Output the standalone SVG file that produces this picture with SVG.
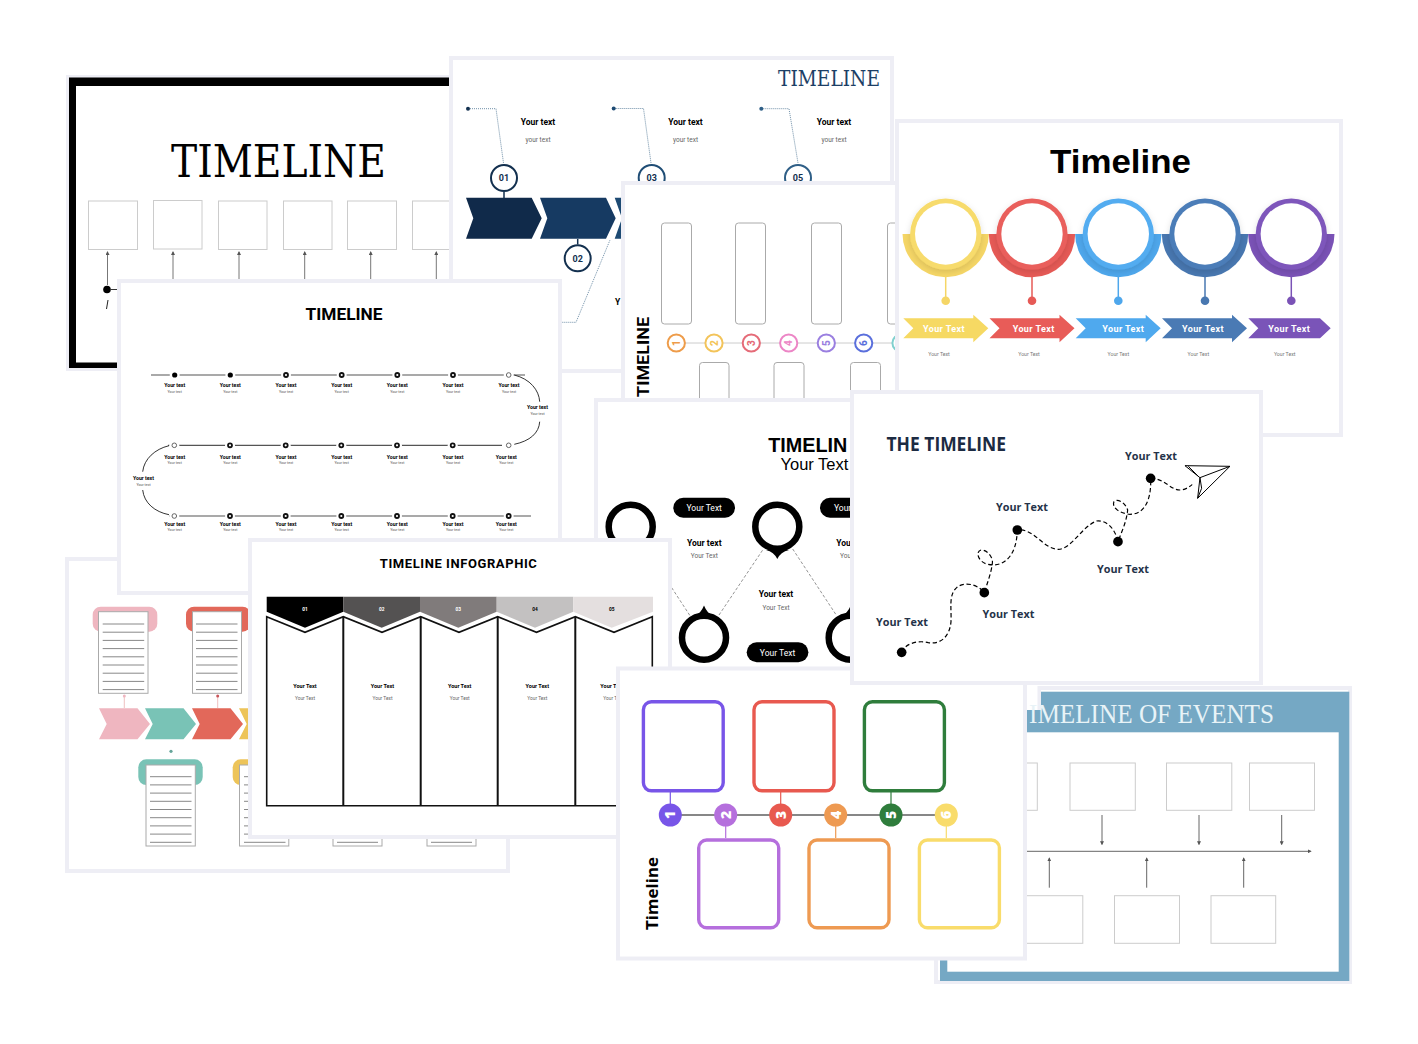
<svg xmlns="http://www.w3.org/2000/svg" width="1418" height="1044" viewBox="0 0 1418 1044">
<style>
.card{fill:#fff;stroke:#eeeef5;stroke-width:4}
text{font-family:Roboto,"Liberation Sans",sans-serif;fill:#000}
.m{text-anchor:middle}
.serif{font-family:"Liberation Serif","DejaVu Serif",serif}
.slab{font-family:"DejaVu Serif","Liberation Serif",serif}
.box{fill:#fff;stroke:#ccc;stroke-width:1}
.vbox{fill:#fff;stroke:#aaa;stroke-width:1}
.gl{stroke:#777;stroke-width:1;fill:none}
.b{font-weight:700}
.bt{font-weight:700;font-size:8.5px}
.st{font-size:6.5px;fill:#666}
.e1{font-weight:700;font-size:5.2px;text-anchor:middle}
.e2{font-size:3.6px;fill:#555;text-anchor:middle}
.dot{stroke:#6f8fa8;stroke-width:1;stroke-dasharray:1 1;fill:none}
.num{font-weight:700;font-size:9px;fill:#13304f;text-anchor:middle}
.cring{fill:#fff;stroke-width:2}
.cd{font-weight:800;font-size:10px;text-anchor:middle}
.ring{fill:#fff;filter:url(#sh)}
.hole{fill:#fff}
.dw{fill:#fff;font-weight:700;font-size:9px;text-anchor:middle;letter-spacing:.4px}
.ds{font-size:5.2px;fill:#777;text-anchor:middle}
.n{fill:#fff;stroke:#111;stroke-width:1.8}
.nl{fill:#fff;stroke:#666;stroke-width:1}
.doc{fill:#fff;stroke:#aaa;stroke-width:1}
.dl{stroke:#888;stroke-width:1;fill:none}
.col{fill:none;stroke:#111;stroke-width:1.6}
.it1{font-weight:700;font-size:5.5px;text-anchor:middle}
.it2{font-size:4.8px;fill:#666;text-anchor:middle}
.inum{font-weight:700;font-size:4.8px;text-anchor:middle}
.jbox{fill:#fff;stroke-width:3.4}
.jd{fill:#fff;font-weight:800;font-size:14px;text-anchor:middle;font-family:"Open Sans",sans-serif}
.k{fill:#fff;stroke:#ccc;stroke-width:1}
.ka{stroke:#666;stroke-width:1;fill:none;marker-end:url(#ah)}
.hl{font-family:"Open Sans",sans-serif;font-weight:700;font-size:10.8px;fill:#253349;text-anchor:middle}
.pill{fill:#000}
.pt{fill:#fff;font-size:8.5px;text-anchor:middle}
</style>
<defs>
<marker id="ah" markerWidth="4" markerHeight="4" refX="3" refY="2" orient="auto"><path d="M0,0L4,2L0,4Z" fill="#555"/></marker>
<filter id="sh" x="-30%" y="-30%" width="160%" height="160%"><feDropShadow dx="0" dy="2" stdDeviation="3" flood-color="#000" flood-opacity=".13"/></filter>
<path id="bowl" d="M-43.2,0A43.2,43.2 0 0 0 43.2,0Z"/>
<path id="arw" d="M0,4H70V0.4L85,14L70,28V24H0L10,14Z"/>
<path id="chv" d="M0,0H38.5L51,15.7L38.5,31H0L7.7,15.7Z"/>
<path id="pin" d="M-9,1Q-3,-2 0,-9.5Q3,-2 9,1Z"/>
<g id="lines"><path class="dl" d="M0,0H41.5M0,8.2H41.5M0,16.4H41.5M0,24.6H41.5M0,32.8H41.5M0,41H41.5M0,49.2H41.5M0,57.4H41.5M0,65.6H41.5"/></g>
</defs>

<g id="card-black-timeline">
<rect class="card" x="68" y="77" width="443" height="292"/>
<path d="M69,77.5H511V368H69Z" fill="#000"/>
<rect x="76" y="86" width="425" height="276.5" fill="#fff"/>
<text class="slab" x="171" y="177" font-size="44" textLength="215" lengthAdjust="spacingAndGlyphs">TIMELINE</text>
<rect class="box" x="88.5" y="201" width="49" height="48.5"/>
<rect class="box" x="153.5" y="200.5" width="48.5" height="48.5"/>
<rect class="box" x="218.5" y="201" width="48.5" height="48.5"/>
<rect class="box" x="283.5" y="201" width="48.5" height="48.5"/>
<rect class="box" x="347.5" y="201" width="49" height="48.5"/>
<rect class="box" x="412.5" y="201" width="49" height="48.5"/>
<path class="gl" marker-end="url(#ah)" d="M107.5,285V252"/>
<path class="gl" marker-end="url(#ah)" d="M173,285V252"/>
<path class="gl" marker-end="url(#ah)" d="M239,285V252"/>
<path class="gl" marker-end="url(#ah)" d="M304.7,285V252"/>
<path class="gl" marker-end="url(#ah)" d="M370.7,285V252"/>
<path class="gl" marker-end="url(#ah)" d="M436.3,285V252"/>
<circle cx="107" cy="289.5" r="3.8"/>
<path d="M110,289.5H119" stroke="#333" fill="none"/>
<path d="M108,300L106.5,309" stroke="#222" stroke-width="1" fill="none"/>
</g>

<g id="card-blue-timeline">
<rect class="card" x="451" y="58" width="441" height="313"/>
<text class="slab" x="778" y="86" font-size="22" style="fill:#1d3f66" textLength="102" lengthAdjust="spacingAndGlyphs">TIMELINE</text>
<path class="dot" d="M468,108.7H496L503.5,163"/>
<path class="dot" d="M613.7,108.5H643.5L651,163"/>
<path class="dot" d="M761.3,108.7H789L798,163"/>
<path class="dot" d="M561.7,322.3H576L610,240"/>
<circle cx="468" cy="108.7" r="2" fill="#13304f"/>
<circle cx="613.7" cy="108.5" r="2" fill="#1d4a73"/>
<circle cx="761.3" cy="108.7" r="2" fill="#2f5f87"/>
<text class="bt m" x="538" y="125">Your text</text><text class="st m" x="538" y="142">your text</text>
<text class="bt m" x="685.5" y="125">Your text</text><text class="st m" x="685.5" y="142">your text</text>
<text class="bt m" x="834" y="125">Your text</text><text class="st m" x="834" y="142">your text</text>
<path d="M504,192V198M577.7,239V244.5" stroke="#13304f" stroke-width="1.5"/>
<path d="M466,197.7H531.7L541.7,218.3L531.7,238.7H466L473.3,218.3Z" fill="#102a4a"/>
<path d="M540,197.7H606L615.7,218.3L606,238.7H540L547.3,218.3Z" fill="#163a62"/>
<path d="M614.7,197.7H630V238.7H614.7L622,218.3Z" fill="#1d4a73"/>
<circle class="cring" cx="504" cy="178" r="13" stroke="#13304f"/><text class="num" x="504" y="181.3">01</text>
<circle class="cring" cx="577.7" cy="258.3" r="13" stroke="#13304f"/><text class="num" x="577.7" y="261.6">02</text>
<circle class="cring" cx="651.7" cy="178" r="13" stroke="#1f4d75"/><text class="num" x="651.7" y="181.3">03</text>
<circle class="cring" cx="798" cy="178" r="13" stroke="#2f5f87"/><text class="num" x="798" y="181.3">05</text>
<text class="bt" x="615" y="305">Y</text>
</g>

<g id="card-vertical-timeline">
<rect class="card" x="623" y="183" width="290" height="230"/>
<rect class="vbox" x="661.5" y="223" width="30" height="101" rx="3"/>
<rect class="vbox" x="735.5" y="223" width="30" height="101" rx="3"/>
<rect class="vbox" x="811.5" y="223" width="30" height="101" rx="3"/>
<rect class="vbox" x="887.5" y="223" width="30" height="101" rx="3"/>
<path d="M676,343H905" stroke="#ccc" stroke-width="1"/>
<circle class="cring" cx="676.3" cy="343" r="8.6" stroke="#ee9c4a"/><text class="cd" x="676.3" y="346.5" style="fill:#ee9c4a" transform="rotate(-90 676.3 343)">1</text>
<circle class="cring" cx="714" cy="343" r="8.6" stroke="#f3c45a"/><text class="cd" x="714" y="346.5" style="fill:#f3c45a" transform="rotate(-90 714 343)">2</text>
<circle class="cring" cx="751.3" cy="343" r="8.6" stroke="#e56b78"/><text class="cd" x="751.3" y="346.5" style="fill:#e56b78" transform="rotate(-90 751.3 343)">3</text>
<circle class="cring" cx="788.7" cy="343" r="8.6" stroke="#ec86c6"/><text class="cd" x="788.7" y="346.5" style="fill:#ec86c6" transform="rotate(-90 788.7 343)">4</text>
<circle class="cring" cx="826.3" cy="343" r="8.6" stroke="#9a7fe0"/><text class="cd" x="826.3" y="346.5" style="fill:#9a7fe0" transform="rotate(-90 826.3 343)">5</text>
<circle class="cring" cx="863.7" cy="343" r="8.6" stroke="#5a6fdc"/><text class="cd" x="863.7" y="346.5" style="fill:#5a6fdc" transform="rotate(-90 863.7 343)">6</text>
<circle class="cring" cx="901" cy="343" r="8.6" stroke="#7fd0cf"/>
<rect class="vbox" x="699.5" y="362.5" width="29.5" height="50" rx="3"/>
<rect class="vbox" x="774" y="362.5" width="30" height="50" rx="3"/>
<rect class="vbox" x="850.5" y="362.5" width="30" height="50" rx="3"/>
<text class="b" x="648.5" y="397" font-size="16.5" textLength="80" lengthAdjust="spacingAndGlyphs" font-weight="900" transform="rotate(-90 648.5 397)">TIMELINE</text>
</g>

<g id="card-timeline-rings">
<rect class="card" x="897" y="121" width="444" height="314"/>
<text class="b m" x="1120.5" y="172.5" font-size="34" style="font-family:'Liberation Sans',sans-serif" textLength="141" lengthAdjust="spacingAndGlyphs">Timeline</text>
<use href="#bowl" x="945.7" y="234" fill="#f5d666"/>
<use href="#bowl" x="1032" y="234" fill="#e65a56"/>
<use href="#bowl" x="1118.3" y="234" fill="#4ea7ec"/>
<use href="#bowl" x="1205" y="234" fill="#4877b0"/>
<use href="#bowl" x="1291.3" y="234" fill="#7a52b6"/>
<circle class="ring" cx="945.7" cy="234" r="35.6" style="fill:#f7db6c"/><circle class="hole" cx="945.7" cy="234" r="30.7"/>
<circle class="ring" cx="1032" cy="234" r="35.6" style="fill:#e95f5b"/><circle class="hole" cx="1032" cy="234" r="30.7"/>
<circle class="ring" cx="1118.3" cy="234" r="35.6" style="fill:#52acf0"/><circle class="hole" cx="1118.3" cy="234" r="30.7"/>
<circle class="ring" cx="1205" cy="234" r="35.6" style="fill:#4c7db8"/><circle class="hole" cx="1205" cy="234" r="30.7"/>
<circle class="ring" cx="1291.3" cy="234" r="35.6" style="fill:#7e57bb"/><circle class="hole" cx="1291.3" cy="234" r="30.7"/>
<path d="M945.7,276V300" stroke="#f5d666" stroke-width="1.5"/><circle cx="945.7" cy="300.7" r="4.3" fill="#f5d666"/>
<path d="M1032,276V300" stroke="#e65a56" stroke-width="1.5"/><circle cx="1032" cy="300.7" r="4.3" fill="#e65a56"/>
<path d="M1118.3,276V300" stroke="#4ea7ec" stroke-width="1.5"/><circle cx="1118.3" cy="300.7" r="4.3" fill="#4ea7ec"/>
<path d="M1205,276V300" stroke="#4877b0" stroke-width="1.5"/><circle cx="1205" cy="300.7" r="4.3" fill="#4877b0"/>
<path d="M1291.3,276V300" stroke="#7a52b6" stroke-width="1.5"/><circle cx="1291.3" cy="300.7" r="4.3" fill="#7a52b6"/>
<use href="#arw" x="903.3" y="314.3" fill="#f6d963"/>
<use href="#arw" x="989.5" y="314.3" fill="#e85c58"/>
<use href="#arw" x="1075.7" y="314.3" fill="#4fa9ee"/>
<use href="#arw" x="1162" y="314.3" fill="#4a7ab4"/>
<path d="M1248.3,318.3H1320L1330.7,328.3L1320,338.3H1248.3L1258.3,328.3Z" fill="#7a54b8"/>
<text class="dw" x="944" y="331.7">Your Text</text>
<text class="dw" x="1033.7" y="331.7">Your Text</text>
<text class="dw" x="1123.3" y="331.7">Your Text</text>
<text class="dw" x="1203" y="331.7">Your Text</text>
<text class="dw" x="1289.3" y="331.7">Your Text</text>
<text class="ds" x="939" y="356">Your Text</text>
<text class="ds" x="1029" y="356">Your Text</text>
<text class="ds" x="1118.3" y="356">Your Text</text>
<text class="ds" x="1198.3" y="356">Your Text</text>
<text class="ds" x="1284.7" y="356">Your Text</text>
</g>

<g id="card-pastel-docs">
<rect class="card" x="67" y="559" width="441" height="312"/>
<rect x="92.7" y="606.7" width="64.6" height="25" rx="8" fill="#efb6c0"/>
<rect class="doc" x="98.5" y="611.7" width="49.5" height="81.6"/><use href="#lines" x="102.7" y="624"/>
<rect x="186" y="606.7" width="64.6" height="25" rx="8" fill="#e2685a"/>
<rect class="doc" x="192.5" y="611.7" width="49" height="81.6"/><use href="#lines" x="196" y="624"/>
<path d="M124.3,696V708M217.7,696V708" stroke="#e8a5a5" stroke-width=".7"/>
<circle cx="124.3" cy="696" r="1.5" fill="#efb6c0"/><circle cx="217.7" cy="696" r="1.5" fill="#c9555a"/>
<use href="#chv" x="99" y="708.3" fill="#efb6c0"/>
<use href="#chv" x="145" y="708.3" fill="#79c3b6"/>
<use href="#chv" x="192" y="708.3" fill="#e2685a"/>
<use href="#chv" x="239" y="708.3" fill="#edc459"/>
<circle cx="171" cy="751.3" r="1.6" fill="#66a59a"/>
<rect x="138.3" y="759.3" width="64.4" height="25.7" rx="8" fill="#79c3b6"/>
<rect class="doc" x="146" y="765" width="49.3" height="81"/><use href="#lines" x="150" y="776.7"/>
<rect x="232.7" y="759.3" width="64.4" height="25.7" rx="8" fill="#edc459"/>
<rect class="doc" x="239.5" y="765" width="49.3" height="81"/><use href="#lines" x="244" y="776.7"/>
<rect class="doc" x="333" y="765" width="49" height="81"/><path class="dl" d="M337,842.3H378"/>
<rect class="doc" x="427" y="765" width="49" height="81"/><path class="dl" d="M431,842.3H472"/>
</g>

<g id="card-serpentine">
<rect class="card" x="119" y="281" width="441" height="312"/>
<text class="b m" x="344" y="319.5" font-size="16.5" textLength="77" lengthAdjust="spacingAndGlyphs">TIMELINE</text>
<path d="M151,375H525M168,445.3H502M169,516H531" stroke="#555" stroke-width="1.2" fill="none"/>
<path d="M514.3,375C530,379 539,390 539.7,401.7M539.7,421.7C539,433 530,441 514.3,444.3M169,445.7C155,449 144,459 142.7,471.7M142.7,490C144,503 155,512 169,514.7" stroke="#333" stroke-width="1" fill="none"/>
<g>
<circle cx="174.7" cy="375" r="5" fill="#fff"/><circle cx="230.3" cy="375" r="5" fill="#fff"/><circle cx="286" cy="375" r="5" fill="#fff"/><circle cx="341.7" cy="375" r="5" fill="#fff"/><circle cx="397.3" cy="375" r="5" fill="#fff"/><circle cx="453" cy="375" r="5" fill="#fff"/><circle cx="508.7" cy="375" r="5" fill="#fff"/>
<circle cx="174.3" cy="445.3" r="5" fill="#fff"/><circle cx="230" cy="445.3" r="5" fill="#fff"/><circle cx="285.7" cy="445.3" r="5" fill="#fff"/><circle cx="341.3" cy="445.3" r="5" fill="#fff"/><circle cx="397" cy="445.3" r="5" fill="#fff"/><circle cx="452.7" cy="445.3" r="5" fill="#fff"/><circle cx="508.7" cy="445.3" r="5" fill="#fff"/>
<circle cx="174.3" cy="516" r="5" fill="#fff"/><circle cx="230" cy="516" r="5" fill="#fff"/><circle cx="285.7" cy="516" r="5" fill="#fff"/><circle cx="341.3" cy="516" r="5" fill="#fff"/><circle cx="397" cy="516" r="5" fill="#fff"/><circle cx="452.7" cy="516" r="5" fill="#fff"/><circle cx="508.7" cy="516" r="5" fill="#fff"/>
</g>
<circle cx="174.7" cy="375" r="2.6"/><circle cx="230.3" cy="375" r="2.6"/>
<circle class="n" cx="286" cy="375" r="2"/><circle class="n" cx="341.7" cy="375" r="2"/><circle class="n" cx="397.3" cy="375" r="2"/><circle class="n" cx="453" cy="375" r="2"/><circle class="nl" cx="508.7" cy="375" r="2.3"/>
<circle class="nl" cx="174.3" cy="445.3" r="2.3"/><circle class="n" cx="230" cy="445.3" r="2"/><circle class="n" cx="285.7" cy="445.3" r="2"/><circle class="n" cx="341.3" cy="445.3" r="2"/><circle class="n" cx="397" cy="445.3" r="2"/><circle class="n" cx="452.7" cy="445.3" r="2"/><circle class="nl" cx="508.7" cy="445.3" r="2.3"/>
<circle class="nl" cx="174.3" cy="516" r="2.3"/><circle class="n" cx="230" cy="516" r="2"/><circle class="n" cx="285.7" cy="516" r="2"/><circle class="n" cx="341.3" cy="516" r="2"/><circle class="n" cx="397" cy="516" r="2"/><circle class="n" cx="452.7" cy="516" r="2"/><circle class="n" cx="508.7" cy="516" r="2"/>
<text class="e1" x="174.7" y="387.3">Your text</text><text class="e2" x="174.7" y="392.8">Your text</text>
<text class="e1" x="230.3" y="387.3">Your text</text><text class="e2" x="230.3" y="392.8">Your text</text>
<text class="e1" x="286" y="387.3">Your text</text><text class="e2" x="286" y="392.8">Your text</text>
<text class="e1" x="341.7" y="387.3">Your text</text><text class="e2" x="341.7" y="392.8">Your text</text>
<text class="e1" x="397.3" y="387.3">Your text</text><text class="e2" x="397.3" y="392.8">Your text</text>
<text class="e1" x="453" y="387.3">Your text</text><text class="e2" x="453" y="392.8">Your text</text>
<text class="e1" x="509" y="387.3">Your text</text><text class="e2" x="509" y="392.8">Your text</text>
<text class="e1" x="537.5" y="409">Your text</text><text class="e2" x="537.5" y="414.7">Your text</text>
<text class="e1" x="174.7" y="458.5">Your text</text><text class="e2" x="174.7" y="464">Your text</text>
<text class="e1" x="230.3" y="458.5">Your text</text><text class="e2" x="230.3" y="464">Your text</text>
<text class="e1" x="286" y="458.5">Your text</text><text class="e2" x="286" y="464">Your text</text>
<text class="e1" x="341.7" y="458.5">Your text</text><text class="e2" x="341.7" y="464">Your text</text>
<text class="e1" x="397.3" y="458.5">Your text</text><text class="e2" x="397.3" y="464">Your text</text>
<text class="e1" x="453" y="458.5">Your text</text><text class="e2" x="453" y="464">Your text</text>
<text class="e1" x="506.3" y="458.5">Your text</text><text class="e2" x="506.3" y="464">Your text</text>
<text class="e1" x="143.5" y="480">Your text</text><text class="e2" x="143.5" y="485.7">Your text</text>
<text class="e1" x="174.7" y="525.7">Your text</text><text class="e2" x="174.7" y="531.3">Your text</text>
<text class="e1" x="230.3" y="525.7">Your text</text><text class="e2" x="230.3" y="531.3">Your text</text>
<text class="e1" x="286" y="525.7">Your text</text><text class="e2" x="286" y="531.3">Your text</text>
<text class="e1" x="341.7" y="525.7">Your text</text><text class="e2" x="341.7" y="531.3">Your text</text>
<text class="e1" x="397.3" y="525.7">Your text</text><text class="e2" x="397.3" y="531.3">Your text</text>
<text class="e1" x="453" y="525.7">Your text</text><text class="e2" x="453" y="531.3">Your text</text>
<text class="e1" x="506.3" y="525.7">Your text</text><text class="e2" x="506.3" y="531.3">Your text</text>
</g>

<g id="card-pin-rings">
<rect class="card" x="596" y="400" width="300" height="290"/>
<text class="b" x="768.3" y="451.7" font-size="21" style="font-family:'Liberation Sans',sans-serif" textLength="79" lengthAdjust="spacingAndGlyphs">TIMELIN</text>
<text x="780.5" y="469.5" font-size="16.5" style="font-family:'Liberation Sans',sans-serif">Your Text</text>
<path d="M671.7,587.7L690,615.7M719,615L762.7,550M792.7,549L836.7,615.7" stroke="#888" stroke-width=".9" stroke-dasharray="3 2" fill="none"/>
<circle cx="630.7" cy="526.7" r="22" fill="none" stroke="#000" stroke-width="6.5"/>
<circle cx="777.3" cy="526.7" r="22" fill="none" stroke="#000" stroke-width="6.5"/>
<path d="M766,550Q774,552 777.3,559Q780.5,552 789,550Z"/>
<circle cx="704" cy="637.7" r="22" fill="none" stroke="#000" stroke-width="6.5"/>
<use href="#pin" x="704" y="615"/>
<circle cx="850.7" cy="637.7" r="22" fill="none" stroke="#000" stroke-width="6.5"/>
<use href="#pin" x="850.7" y="615"/>
<rect class="pill" x="673.3" y="497.7" width="61.7" height="20" rx="10"/><text class="pt" x="704.2" y="511">Your Text</text>
<rect class="pill" x="820" y="497.7" width="61.7" height="20" rx="10"/><text class="pt" x="834" y="511" style="text-anchor:start">Your</text>
<rect class="pill" x="746.7" y="642.3" width="61.7" height="20" rx="10"/><text class="pt" x="777.5" y="656">Your Text</text>
<text class="bt m" x="704.3" y="545.5">Your text</text><text class="st m" x="704.3" y="558">Your Text</text>
<text class="bt" x="836.3" y="545.5">You</text><text class="st" x="840" y="558">You</text>
<text class="bt m" x="776" y="597">Your text</text><text class="st m" x="776" y="609.5">Your Text</text>
</g>

<g id="card-infographic">
<rect class="card" x="250" y="540" width="420" height="297"/>
<text class="b m" x="458.3" y="567.7" font-size="13" textLength="157" lengthAdjust="spacing">TIMELINE INFOGRAPHIC</text>
<path d="M266.7,596.7H343.3V611.7L305,627.7L266.7,611.7Z" fill="#000"/>
<path d="M343.3,596.7H420V611.7L381.7,627.7L343.3,611.7Z" fill="#545252"/>
<path d="M420,596.7H496.7V611.7L458.3,627.7L420,611.7Z" fill="#807b7b"/>
<path d="M496.7,596.7H573.3V611.7L535,627.7L496.7,611.7Z" fill="#c3c1c1"/>
<path d="M573.3,596.7H653V611.7L611.7,627.7L573.3,611.7Z" fill="#e4dfdf"/>
<text class="inum" x="305" y="610.5" style="fill:#fff">01</text>
<text class="inum" x="381.7" y="610.5" style="fill:#fff">02</text>
<text class="inum" x="458.3" y="610.5" style="fill:#fff">03</text>
<text class="inum" x="535" y="610.5">04</text>
<text class="inum" x="611.7" y="610.5">05</text>
<path class="col" d="M266.7,616.7L305,632.3L343.3,616.7L382,632.3L420.7,616.7L459,632.3L497.7,616.7L536.5,632.3L575.3,616.7L614,632.3L652.3,616.7V805.7H266.7Z"/>
<path d="M343.3,616.7V805.7M420.7,616.7V805.7M497.7,616.7V805.7M575.3,616.7V805.7" stroke="#111" stroke-width="2" fill="none"/>
<text class="it1" x="305" y="688">Your Text</text><text class="it2" x="305" y="699.5">Your Text</text>
<text class="it1" x="382.5" y="688">Your Text</text><text class="it2" x="382.5" y="699.5">Your Text</text>
<text class="it1" x="459.7" y="688">Your Text</text><text class="it2" x="459.7" y="699.5">Your Text</text>
<text class="it1" x="537.3" y="688">Your Text</text><text class="it2" x="537.3" y="699.5">Your Text</text>
<text class="it1" x="600.3" y="688" style="text-anchor:start">Your T</text><text class="it2" x="603.3" y="699.5" style="text-anchor:start">Your T</text>
</g>

<g id="card-events">
<rect class="card" x="936" y="688" width="414" height="294"/>
<rect x="940" y="691.7" width="409.3" height="289.3" fill="#75a8c4"/>
<rect x="947.3" y="732.3" width="391.4" height="239.4" fill="#fff"/>
<rect x="1027" y="686" width="13" height="24" fill="#fff"/>
<rect x="1037.5" y="686" width="3.5" height="24" fill="#eeeef5"/>
<text class="serif" x="1029" y="722.7" font-size="27" style="fill:#e8f3f7" textLength="245" lengthAdjust="spacingAndGlyphs">IMELINE OF EVENTS</text>
<rect class="k" x="972" y="763" width="65.3" height="47.3"/>
<rect class="k" x="1070" y="763" width="65.3" height="47.3"/>
<rect class="k" x="1166.5" y="763" width="65.3" height="47.3"/>
<rect class="k" x="1249.5" y="763" width="65" height="47.3"/>
<rect class="k" x="1017.5" y="895.7" width="65.3" height="47.6"/>
<rect class="k" x="1114.5" y="895.7" width="65" height="47.6"/>
<rect class="k" x="1211" y="895.7" width="64.7" height="47.6"/>
<path class="ka" d="M1010,851.3H1310.7"/>
<path class="ka" d="M1102,815V844.3"/><path class="ka" d="M1199,815V844.3"/><path class="ka" d="M1281.7,815V844.3"/>
<path class="ka" d="M1049.3,887.7V858.3"/><path class="ka" d="M1146.7,887.7V858.3"/><path class="ka" d="M1243.7,887.7V858.3"/>
</g>

<g id="card-colored-boxes">
<rect class="card" x="618" y="668.5" width="407" height="290"/>
<path d="M670.3,815H946.3" stroke="#111" stroke-width="1.2"/>
<path d="M670.3,792V804" stroke="#7855e8" stroke-width="1.2"/>
<path d="M725.7,826V838" stroke="#b56fdd" stroke-width="1.2"/>
<path d="M780.7,792V804" stroke="#e8594f" stroke-width="1.2"/>
<path d="M835.7,826V838" stroke="#ee9a52" stroke-width="1.2"/>
<path d="M891,792V804" stroke="#2f7d3c" stroke-width="1.2"/>
<path d="M946.3,826V838" stroke="#f9dc6b" stroke-width="1.2"/>
<rect class="jbox" x="643.4" y="701.8" width="79.8" height="89" rx="8" stroke="#7855e8"/>
<rect class="jbox" x="754" y="701.8" width="80" height="89" rx="8" stroke="#e8594f"/>
<rect class="jbox" x="864.4" y="701.8" width="80" height="89" rx="8" stroke="#2f7d3c"/>
<rect class="jbox" x="698.7" y="840" width="80" height="87.7" rx="8" stroke="#b56fdd"/>
<rect class="jbox" x="809" y="840" width="80" height="87.7" rx="8" stroke="#ee9a52"/>
<rect class="jbox" x="919.4" y="840" width="80" height="87.7" rx="8" stroke="#f9dc6b"/>
<circle cx="670.3" cy="815" r="11.5" fill="#7855e8"/><text class="jd" x="670.3" y="820" transform="rotate(-90 670.3 815)">1</text>
<circle cx="725.7" cy="815" r="11.5" fill="#b56fdd"/><text class="jd" x="725.7" y="820" transform="rotate(-90 725.7 815)">2</text>
<circle cx="780.7" cy="815" r="11.5" fill="#e8594f"/><text class="jd" x="780.7" y="820" transform="rotate(-90 780.7 815)">3</text>
<circle cx="835.7" cy="815" r="11.5" fill="#ee9a52"/><text class="jd" x="835.7" y="820" transform="rotate(-90 835.7 815)">4</text>
<circle cx="891" cy="815" r="11.5" fill="#2f7d3c"/><text class="jd" x="891" y="820" transform="rotate(-90 891 815)">5</text>
<circle cx="946.3" cy="815" r="11.5" fill="#f9dc6b"/><text class="jd" x="946.3" y="820" transform="rotate(-90 946.3 815)">6</text>
<text x="658" y="930" font-size="16" font-weight="700" style="font-family:'Open Sans',sans-serif" textLength="73" lengthAdjust="spacingAndGlyphs" transform="rotate(-90 658 930)">Timeline</text>
</g>

<g id="card-paper-plane">
<rect class="card" x="852" y="392" width="409" height="291"/>
<text class="b" x="886.5" y="451" font-size="20" style="fill:#1c2b42;font-family:'Open Sans',sans-serif" textLength="119.5" lengthAdjust="spacingAndGlyphs">THE TIMELINE</text>
<g transform="translate(855 395) scale(.3333)">
<path d="M140,772C150,745 190,735 220,743C260,750 285,720 288,680C290,640 280,600 305,578C325,560 365,565 388,593C395,570 410,530 412,505C415,490 400,465 378,465C360,470 370,500 395,507C440,520 485,490 487,405C540,400 560,460 610,463C650,462 680,395 725,378C755,375 780,400 789,440C800,410 815,380 818,345C810,320 785,310 777,320C770,335 790,355 825,358C865,358 890,320 887,250C930,250 945,285 975,285C1000,285 1020,260 1035,248" fill="none" stroke="#000" stroke-width="3.6" stroke-dasharray="13 8"/>
<circle cx="140" cy="772" r="14.5"/><circle cx="388" cy="593" r="14.5"/><circle cx="487" cy="405" r="14.5"/><circle cx="789" cy="440" r="14.5"/><circle cx="887" cy="250" r="14.5"/>
<path d="M990,212L1125,214L1035,248L1028,310L1125,214M990,212L1035,248L1040,280L1028,310M1000,214L1030,244" fill="#fff" stroke="#000" stroke-width="3" stroke-linejoin="round"/>
</g>
<text class="hl" x="1151" y="460">Your Text</text>
<text class="hl" x="1022" y="510.7">Your Text</text>
<text class="hl" x="1123" y="572.7">Your Text</text>
<text class="hl" x="1008.5" y="618.3">Your Text</text>
<text class="hl" x="902" y="626">Your Text</text>
</g>
</svg>
